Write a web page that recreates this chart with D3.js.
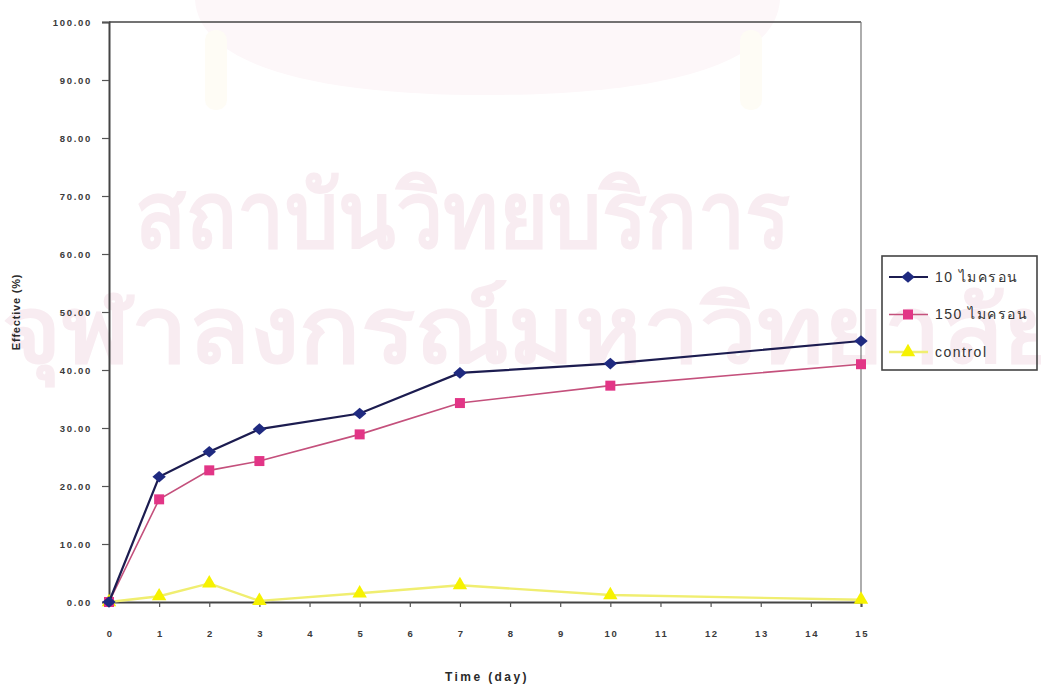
<!DOCTYPE html>
<html>
<head>
<meta charset="utf-8">
<script src="https://cdn.jsdelivr.net/npm/d3@7/dist/d3.min.js"></script>
<style>
  html, body { margin: 0; padding: 0; background: #ffffff; }
  svg { display: block; }
  .tick-label { font-family: "Liberation Sans", Arial, sans-serif; font-weight: bold; font-size: 9.5px; fill: #3a3a3a; letter-spacing: 1.7px; }
  .axis-title { font-family: "Liberation Sans", Arial, sans-serif; font-weight: bold; fill: #2a2a2a; }
  .legend-text { font-family: "Liberation Sans", Arial, "Noto Sans", sans-serif; font-size: 14px; fill: #333; letter-spacing: 1.5px; }
  .watermark { font-family: "Noto Sans", "DejaVu Sans", sans-serif; font-weight: bold; fill: #f8ecf1; }
</style>
</head>
<body>
<svg id="chart" width="1041" height="687"></svg>
<script>
// Sampling days and measured effectiveness (%)
const days = [0, 1, 2, 3, 5, 7, 10, 15];
const micron10 = [0, 21.6, 25.9, 29.8, 32.5, 39.5, 41.1, 45.0];
const micron150 = [0, 17.7, 22.7, 24.3, 28.9, 34.3, 37.3, 41.0];
const control = [0, 1.0, 3.2, 0.2, 1.5, 2.9, 1.2, 0.4];

const seriesNames = ["10 ไมครอน", "150 ไมครอน", "control"];
const xTickValues = [0, 1, 2, 3, 4, 5, 6, 7, 8, 9, 10, 11, 12, 13, 14, 15];
const yTickValues = [0, 10, 20, 30, 40, 50, 60, 70, 80, 90, 100];
const watermarkLines = ["สถาบันวิทยบริการ", "จุฬาลงกรณ์มหาวิทยาลัย"];

const svg = d3.select("#chart");
const margin = { left: 109, right: 180, top: 22, bottom: 85 };
const W = 1041, H = 687;
const x0 = margin.left, x1 = W - margin.right, y0 = H - margin.bottom, y1 = margin.top;

const x = d3.scaleLinear().domain([0, 15]).range([x0, x1]);
const y = d3.scaleLinear().domain([0, 100]).range([y0, y1]);

// Faint institutional watermark behind the plot
const wm = svg.append("g");
wm.append("path")
  .attr("d", "M195,0 L780,0 C775,70 645,95 487,95 C330,95 200,70 195,0 Z")
  .attr("fill", "#fdf7f9");
[[205, 30], [740, 30]].forEach(([tx, ty]) => {
  wm.append("rect").attr("x", tx).attr("y", ty).attr("width", 22).attr("height", 80)
    .attr("rx", 10).attr("fill", "#fefcf5");
});
wm.append("text").attr("class", "watermark")
  .attr("x", 135).attr("y", 247).attr("font-size", 92)
  .attr("textLength", 655).attr("lengthAdjust", "spacingAndGlyphs")
  .text(watermarkLines[0]);
wm.append("text").attr("class", "watermark")
  .attr("x", 2).attr("y", 362).attr("font-size", 92)
  .attr("textLength", 1060).attr("lengthAdjust", "spacingAndGlyphs")
  .text(watermarkLines[1]);

// Frame: top edge dark, right edge lighter
svg.append("line").attr("x1", x0).attr("x2", x1).attr("y1", y1).attr("y2", y1)
  .attr("stroke", "#444").attr("stroke-width", 1.5);
svg.append("line").attr("x1", x1).attr("x2", x1).attr("y1", y1).attr("y2", y0)
  .attr("stroke", "#777").attr("stroke-width", 1.2);

// Y axis
const yAxis = d3.axisLeft(y).tickValues(yTickValues).tickSize(7).tickPadding(10)
  .tickFormat(d => d3.format(".2f")(d));
const gy = svg.append("g").attr("transform", `translate(${x0},0)`).call(yAxis);
gy.select(".domain").attr("stroke", "#444").attr("stroke-width", 2);
gy.selectAll(".tick line").attr("stroke", "#555").attr("stroke-width", 1.2);
gy.selectAll(".tick text").attr("class", "tick-label").attr("dy", "0.35em");

// X axis
const xAxis = d3.axisBottom(x).tickValues(xTickValues).tickSize(5).tickPadding(23)
  .tickFormat(d3.format("d"));
const gx = svg.append("g").attr("transform", `translate(0,${y0})`).call(xAxis);
gx.select(".domain").attr("stroke", "#444").attr("stroke-width", 2);
gx.selectAll(".tick line").attr("stroke", "#555").attr("stroke-width", 1.2);
gx.selectAll(".tick text").attr("class", "tick-label").attr("dx", "0.08em");

// Axis titles
svg.append("text").attr("class", "axis-title")
  .attr("transform", `translate(20,${(y0 + y1) / 2}) rotate(-90)`)
  .attr("text-anchor", "middle").attr("font-size", 11).attr("letter-spacing", "0.8px")
  .text("Effective (%)");
svg.append("text").attr("class", "axis-title")
  .attr("x", (x0 + x1) / 2 + 2).attr("y", 681)
  .attr("text-anchor", "middle").attr("font-size", 12).attr("letter-spacing", "2.4px")
  .text("Time (day)");

// Marker shapes
const diamond = { draw(ctx, size) { const w = Math.sqrt(size) * 0.75, h = Math.sqrt(size) * 0.65;
  ctx.moveTo(0, -h); ctx.lineTo(w, 0); ctx.lineTo(0, h); ctx.lineTo(-w, 0); ctx.closePath(); } };

// Series
const series = [
  { name: seriesNames[0], values: micron10, line: "#1c1c50", fill: "#1f2a80", width: 2.2, shape: diamond, size: 80 },
  { name: seriesNames[1], values: micron150, line: "#c4507c", fill: "#e23586", width: 1.6, shape: d3.symbolSquare, size: 100 },
  { name: seriesNames[2], values: control, line: "#f0ee70", fill: "#f6f200", width: 2.4, shape: d3.symbolTriangle, size: 90 }
];

const line = d3.line().x(d => x(d[0])).y(d => y(d[1]));

series.slice().reverse().forEach(s => {
  const pts = days.map((d, i) => [d, s.values[i]]);
  svg.append("path").datum(pts).attr("d", line)
    .attr("fill", "none").attr("stroke", s.line).attr("stroke-width", s.width);
  svg.selectAll(null).data(pts).enter().append("path")
    .attr("transform", d => `translate(${x(d[0])},${y(d[1])})`)
    .attr("d", d3.symbol().type(s.shape).size(s.size))
    .attr("fill", s.fill);
});

// Legend
const lg = svg.append("g").attr("transform", "translate(882,256)");
lg.append("rect").attr("width", 155).attr("height", 114)
  .attr("fill", "none").attr("stroke", "#444").attr("stroke-width", 1.6);
series.forEach((s, i) => {
  const cy = 21 + i * 37.5;
  lg.append("line").attr("x1", 7).attr("x2", 46).attr("y1", cy).attr("y2", cy)
    .attr("stroke", s.line).attr("stroke-width", s.width);
  lg.append("path").attr("transform", `translate(26,${cy})`)
    .attr("d", d3.symbol().type(s.shape).size(s.size)).attr("fill", s.fill);
  lg.append("text").attr("class", "legend-text")
    .attr("x", 53).attr("y", cy).attr("dy", "0.35em").text(s.name);
});
</script>
</body>
</html>
